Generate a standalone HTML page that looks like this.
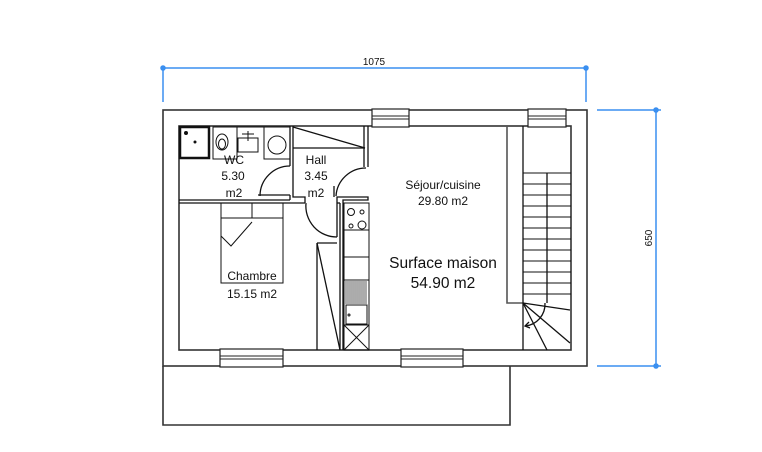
<!DOCTYPE html>
<html><head><meta charset="utf-8"><style>
html,body{margin:0;padding:0;background:#fff;}
svg{display:block;}
text{font-family:"Liberation Sans",sans-serif;fill:#111;}
</style></head><body>
<svg width="762" height="452" viewBox="0 0 762 452" xmlns="http://www.w3.org/2000/svg">
<!-- dimensions -->
<g stroke="#3a8ff0" stroke-width="1.5" fill="none">
<line x1="163" y1="68" x2="586" y2="68"/>
<line x1="163" y1="66" x2="163" y2="102"/>
<line x1="586" y1="66" x2="586" y2="102"/>
<circle cx="163" cy="68" r="2" fill="#3a8ff0"/>
<circle cx="586" cy="68" r="2" fill="#3a8ff0"/>
<line x1="656" y1="110" x2="656" y2="366"/>
<line x1="597" y1="110" x2="661" y2="110"/>
<line x1="597" y1="366" x2="661" y2="366"/>
<circle cx="656" cy="110" r="2" fill="#3a8ff0"/>
<circle cx="656" cy="366" r="2" fill="#3a8ff0"/>
</g>
<text x="374" y="65" font-size="10" text-anchor="middle">1075</text>
<text transform="translate(652,238) rotate(-90)" font-size="10" text-anchor="middle">650</text>

<!-- outer walls -->
<g stroke="#333" stroke-width="1.6" fill="none">
<rect x="163" y="110" width="424" height="256"/>
<rect x="179" y="126" width="392" height="224"/>
<polyline points="163,366 163,425 510,425 510,366"/>
</g>
<!-- windows -->
<g fill="#fff" stroke="#222" stroke-width="1.2">
<rect x="372" y="109" width="37" height="18"/>
<rect x="528" y="109" width="38" height="18"/>
<rect x="220" y="349" width="63" height="18"/>
<rect x="401" y="349" width="62" height="18"/>
</g>
<g stroke="#222" stroke-width="1">
<line x1="372" y1="116" x2="409" y2="116"/><line x1="372" y1="119" x2="409" y2="119"/>
<line x1="528" y1="116" x2="566" y2="116"/><line x1="528" y1="119" x2="566" y2="119"/>
<line x1="220" y1="356" x2="283" y2="356"/><line x1="220" y1="359" x2="283" y2="359"/>
<line x1="401" y1="356" x2="463" y2="356"/><line x1="401" y1="359" x2="463" y2="359"/>
</g>

<!-- interior walls -->
<g stroke="#111" stroke-width="1.3" fill="none">
<line x1="179" y1="200" x2="290" y2="200"/>
<line x1="179" y1="203" x2="305" y2="203"/>
<polyline points="290,126 290,166"/>
<polyline points="293,126 293,197 305,197 305,203"/>
<polyline points="290,195 290,200"/>
<polyline points="364,126 364,167"/>
<polyline points="368,126 368,167"/>
<polyline points="337,203 337,197 368,197 368,200 343,200 343,350"/>
<line x1="340" y1="203" x2="340" y2="350"/>
<line x1="337" y1="203" x2="340" y2="203"/>
<!-- hall closet -->
<line x1="293" y1="148" x2="365" y2="148"/>
<line x1="293" y1="127" x2="365" y2="148"/>
<!-- doors -->
<path d="M290,166 A30,30 0 0 0 260,196"/><line x1="258" y1="195" x2="290" y2="195"/>
<path d="M306,203 A31,31 0 0 0 337,237"/><line x1="337" y1="203" x2="337" y2="237"/>
<path d="M366,168 A30,30 0 0 0 336,196"/><line x1="334" y1="186" x2="334" y2="197"/>
<!-- hall cupboard -->
<line x1="317" y1="243" x2="317" y2="350"/>
<line x1="317" y1="243" x2="337" y2="243"/>
<line x1="317" y1="243" x2="340" y2="350"/>
<!-- stair partition -->
<polyline points="507,126 507,303 523,303" stroke="#555" stroke-width="1.6"/>
<line x1="523" y1="126" x2="523" y2="350"/>
<line x1="547" y1="173" x2="547" y2="303"/>
<line x1="523" y1="303" x2="570" y2="310"/>
<line x1="523" y1="303" x2="570" y2="343"/>
<line x1="523" y1="303" x2="547" y2="350"/>
<path d="M545,303 A22,22 0 0 1 525,326"/>
<polyline points="529,322 525,326 530,328"/>
</g>
<g stroke="#111" stroke-width="1">
<line x1="523" y1="173" x2="571" y2="173"/><line x1="523" y1="184" x2="571" y2="184"/>
<line x1="523" y1="195" x2="571" y2="195"/><line x1="523" y1="206" x2="571" y2="206"/>
<line x1="523" y1="217" x2="571" y2="217"/><line x1="523" y1="228" x2="571" y2="228"/>
<line x1="523" y1="239" x2="571" y2="239"/><line x1="523" y1="250" x2="571" y2="250"/>
<line x1="523" y1="261" x2="571" y2="261"/><line x1="523" y1="272" x2="571" y2="272"/>
<line x1="523" y1="283" x2="571" y2="283"/><line x1="523" y1="294" x2="571" y2="294"/>
</g>

<!-- kitchen -->
<g stroke="#111" stroke-width="1" fill="none">
<rect x="344" y="203" width="25" height="147"/>
<line x1="344" y1="230" x2="369" y2="230"/>
<line x1="344" y1="257" x2="369" y2="257"/>
<line x1="344" y1="280" x2="369" y2="280"/>
<rect x="346" y="305" width="21" height="19"/>
<line x1="344" y1="325" x2="369" y2="325"/>
<line x1="344" y1="325" x2="369" y2="350"/><line x1="369" y1="325" x2="344" y2="350"/>
<circle cx="351" cy="212" r="3.5"/><circle cx="362" cy="212" r="2"/>
<circle cx="351" cy="226" r="2"/><circle cx="362" cy="225" r="4"/>
<circle cx="349" cy="315" r="1"/>
</g>
<g stroke="#111" stroke-width="0.7">
<line x1="346" y1="281" x2="346" y2="304"/><line x1="348" y1="281" x2="348" y2="304"/>
<line x1="350" y1="281" x2="350" y2="304"/><line x1="352" y1="281" x2="352" y2="304"/>
<line x1="354" y1="281" x2="354" y2="304"/><line x1="356" y1="281" x2="356" y2="304"/>
<line x1="358" y1="281" x2="358" y2="304"/><line x1="360" y1="281" x2="360" y2="304"/>
<line x1="362" y1="281" x2="362" y2="304"/><line x1="364" y1="281" x2="364" y2="304"/>
<line x1="366" y1="281" x2="366" y2="304"/>
</g>

<!-- bathroom -->
<g stroke="#111" fill="none">
<rect x="180" y="127" width="29" height="31" stroke-width="2.5"/>
<circle cx="186" cy="133" r="1.5" fill="#111"/>
<circle cx="195" cy="142" r="1" fill="#111"/>
<rect x="213" y="127" width="24" height="32" stroke-width="1"/>
<ellipse cx="222" cy="142" rx="6" ry="8" stroke-width="1"/>
<ellipse cx="222" cy="144" rx="3.5" ry="5" stroke-width="1"/>
<rect x="238" y="138" width="20" height="14" stroke-width="1"/>
<line x1="242" y1="134" x2="254" y2="134" stroke-width="1"/>
<line x1="248" y1="131" x2="248" y2="141" stroke-width="1"/>
<rect x="264" y="127" width="26" height="32" stroke-width="1"/>
<circle cx="277" cy="145" r="9" stroke-width="1"/>
<line x1="213" y1="127" x2="290" y2="127" stroke-width="1"/>
</g>

<!-- bed -->
<g stroke="#111" stroke-width="1" fill="none">
<rect x="221" y="203" width="62" height="80"/>
<line x1="221" y1="218" x2="283" y2="218"/>
<line x1="252" y1="203" x2="252" y2="218"/>
<polyline points="252,222 231,246 221,236"/>
</g>

<!-- labels -->
<g font-size="12" text-anchor="middle">
<text x="234" y="164">WC</text>
<text x="233" y="180">5.30</text>
<text x="234" y="197">m2</text>
<text x="316" y="164">Hall</text>
<text x="316" y="180">3.45</text>
<text x="316" y="197">m2</text>
<text x="443" y="189">Séjour/cuisine</text>
<text x="443" y="205">29.80 m2</text>
<text x="252" y="280">Chambre</text>
<text x="252" y="298">15.15 m2</text>
</g>
<text x="443" y="268" font-size="15.5" text-anchor="middle">Surface maison</text>
<text x="443" y="288" font-size="15.5" text-anchor="middle">54.90 m2</text>
</svg>
</body></html>
